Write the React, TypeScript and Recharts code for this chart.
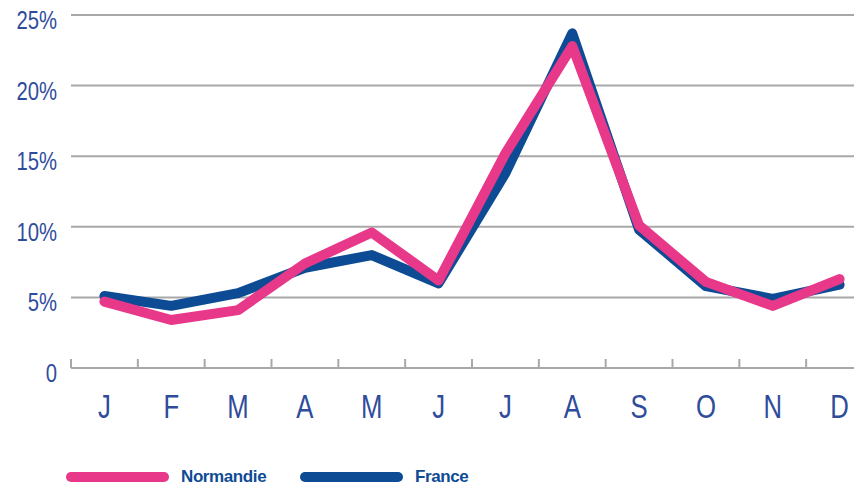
import React from "react"
import {
  LineChart,
  Line,
  XAxis,
  YAxis,
  CartesianGrid,
} from "recharts"

const months = ["J", "F", "M", "A", "M", "J", "J", "A", "S", "O", "N", "D"]
const normandie = [4.7, 3.4, 4.1, 7.4, 9.6, 6.2, 15.2, 22.8, 10.1, 6.1, 4.4, 6.3]
const france = [5.1, 4.4, 5.3, 7.1, 8.0, 6.0, 13.8, 23.7, 9.8, 5.8, 4.9, 5.9]
const yTicks = [0, 5, 10, 15, 20, 25]

const PINK = "#e8388a"
const NAVY = "#0d4b94"
const LABEL = "#2f4c9c"
const GRID = "#a8a8a8"
const FONT = '"Liberation Sans", Arial, sans-serif'

const CHART_W = 880
const Y_W = 71
const RIGHT = 7
const BAND = (CHART_W - Y_W - RIGHT) / months.length

const data = months.map((m, i) => ({
  month: m,
  normandie: normandie[i],
  france: france[i],
}))

// condensed look: squeeze the glyphs horizontally
function MonthTick(props: any) {
  const { x, y, payload } = props
  const left = x - BAND / 2
  return (
    <g>
      <line x1={left} x2={left} y1={y - 9} y2={y} stroke={GRID} strokeWidth={2} />
      <text
        transform={`translate(${x}, ${y + 50}) scale(0.78, 1)`}
        textAnchor="middle"
        fill={LABEL}
        fontSize={33}
        fontFamily={FONT}
      >
        {payload.value}
      </text>
    </g>
  )
}

function PctTick(props: any) {
  const { x, y, payload } = props
  return (
    <text
      transform={`translate(${x - 14}, ${y + 14}) scale(0.78, 1)`}
      textAnchor="end"
      fill={LABEL}
      fontSize={26}
      fontFamily={FONT}
    >
      {payload.value === 0 ? "0" : `${payload.value}%`}
    </text>
  )
}

function LegendItem({ color, label, x }: { color: string; label: string; x: number }) {
  return (
    <>
      <div
        style={{
          position: "absolute",
          left: x,
          top: 472,
          width: 103,
          height: 10,
          borderRadius: 5,
          background: color,
        }}
      />
      <span
        style={{
          position: "absolute",
          left: x + 115,
          top: 468,
          color: NAVY,
          fontWeight: 700,
          fontSize: 17,
          fontFamily: FONT,
          letterSpacing: -0.4,
          lineHeight: "17px",
          whiteSpace: "nowrap",
        }}
      >
        {label}
      </span>
    </>
  )
}

export default function App() {
  return (
    <div
      style={{
        position: "relative",
        marginTop: -8,
        marginLeft: -8,
        width: 862,
        height: 486,
        overflow: "hidden",
        background: "#fff",
      }}
    >
      <LineChart
        width={CHART_W}
        height={486}
        data={data}
        margin={{ top: 15, right: RIGHT, bottom: 68, left: 0 }}
      >
        <CartesianGrid vertical={false} stroke={GRID} strokeWidth={2} />
        <XAxis
          dataKey="month"
          padding={{ left: BAND / 2, right: BAND / 2 }}
          axisLine={{ stroke: GRID, strokeWidth: 2 }}
          tickLine={false}
          tickSize={0}
          tickMargin={0}
          height={50}
          interval={0}
          tick={<MonthTick />}
        />
        <YAxis
          domain={[0, 25]}
          ticks={yTicks}
          width={Y_W}
          axisLine={false}
          tickLine={false}
          tickSize={0}
          tickMargin={0}
          tick={<PctTick />}
        />
        <Line
          dataKey="france"
          stroke={NAVY}
          strokeWidth={10}
          strokeLinecap="round"
          strokeLinejoin="round"
          dot={false}
          activeDot={false}
          isAnimationActive={false}
        />
        <Line
          dataKey="normandie"
          stroke={PINK}
          strokeWidth={10}
          strokeLinecap="round"
          strokeLinejoin="round"
          dot={false}
          activeDot={false}
          isAnimationActive={false}
        />
      </LineChart>
      <LegendItem color={PINK} label="Normandie" x={66} />
      <LegendItem color={NAVY} label="France" x={300} />
    </div>
  )
}
